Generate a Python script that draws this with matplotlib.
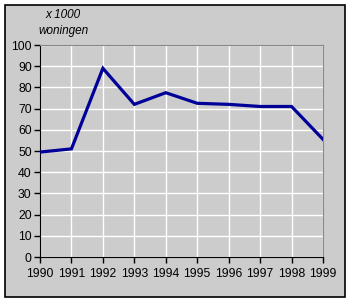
import matplotlib.pyplot as plt
from matplotlib.patches import Rectangle

years = [1990, 1991, 1992, 1993, 1994, 1995, 1996, 1997, 1998, 1999]
woningen = [49.5, 51, 89, 72, 77.5, 72.5, 72, 71, 71, 55.5]
yticks = list(range(0, 101, 10))

plt.rcParams['font.family'] = ['Liberation Sans', 'DejaVu Sans']

fig = plt.figure(figsize=(3.53, 3.02), dpi=100)
fig.patch.set_facecolor('white')

# grey panel with black border, kept behind the axes
fig.patches.append(Rectangle((5 / 353, 5 / 302), 340 / 353, 292 / 302,
                             transform=fig.transFigure, facecolor='#cccccc',
                             edgecolor='black', linewidth=1.2, zorder=-10))

ax = fig.add_axes([40 / 353, 1 - 257 / 302, 283 / 353, 212 / 302])
ax.set_facecolor('#cccccc')
ax.plot(years, woningen, color='#000099', linewidth=2.3, zorder=3,
        solid_joinstyle='miter')

ax.set_xlim(1990, 1999)
ax.set_ylim(0, 100)
ax.set_xticks(years)
ax.set_yticks(yticks)
ax.tick_params(labelsize=8.8, length=4, width=1, direction='out', pad=2)
ax.tick_params(axis='x', pad=4)
ax.grid(color='white', linewidth=1)
ax.set_axisbelow(True)

for side in ['top', 'right']:
    ax.spines[side].set_color('#888888')
for side in ['left', 'bottom']:
    ax.spines[side].set_color('black')

fig.text(63 / 353, 1 - 15 / 302, 'x 1000', style='italic', fontsize=8.5,
         ha='center', va='center')
fig.text(63 / 353, 1 - 31 / 302, 'woningen', style='italic', fontsize=8.5,
         ha='center', va='center')

fig.savefig('out.png', dpi=100)
